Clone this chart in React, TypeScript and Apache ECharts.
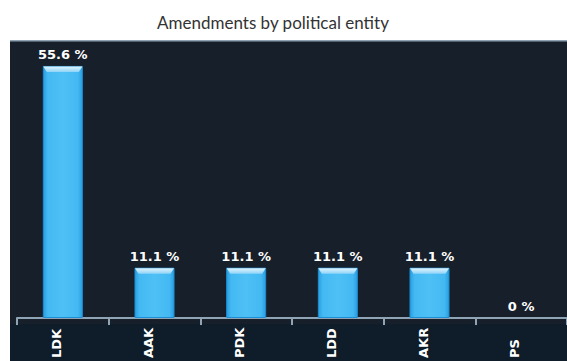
import React, { useEffect, useRef } from "react";
import * as echarts from "echarts";

const categories = ["LDK", "AAK", "PDK", "LDD", "AKR", "PS"];
const values = [55.6, 11.1, 11.1, 11.1, 11.1, 0];
const titleText = "Amendments by political entity";

export default function App() {
  const ref = useRef<HTMLDivElement>(null);
  useEffect(() => {
    if (!ref.current) return;
    const chart = echarts.init(ref.current, undefined, { renderer: "svg" });
    const FONT = "Lato, 'DejaVu Sans', sans-serif";
    const LFONT = "'DejaVu Sans', sans-serif";
    chart.setOption({
      animation: false,
      backgroundColor: "#ffffff",
      graphic: [
        { type: "rect", silent: true, z: -10, shape: { x: 10, y: 40, width: 570, height: 330 }, style: { fill: "#17202a" } },
        { type: "rect", silent: true, z: -9, shape: { x: 10, y: 324, width: 570, height: 40 }, style: { fill: "#0f1c29" } },
        { type: "rect", silent: true, z: -8, shape: { x: 10, y: 40, width: 570, height: 1.5 }, style: { fill: "#8fa3b2" } },
        {
          type: "text",
          x: 273,
          y: 22,
          style: { text: titleText, textAlign: "center", textVerticalAlign: "middle", font: "17px " + FONT, fill: "#333333" },
        },
      ],
      grid: { left: 17, right: -8, top: 46, bottom: 38 },
      xAxis: {
        type: "category",
        data: categories,
        boundaryGap: true,
        axisLine: { show: true, lineStyle: { color: "#8fa5b6", width: 2 } },
        axisTick: { show: true, length: 7, lineStyle: { color: "#8fa5b6", width: 2 } },
        axisLabel: {
          rotate: 90,
          align: "left",
          verticalAlign: "bottom",
          margin: 40,
          color: "#ffffff",
          fontWeight: "bold",
          fontSize: 13,
          fontFamily: LFONT,
          interval: 0,
        },
      },
      yAxis: {
        type: "value",
        min: 0,
        max: 60,
        show: false,
        splitLine: { show: false },
      },
      series: [
        {
          type: "bar",
          data: values.map((v) => (v === 0 ? { value: v, itemStyle: { borderWidth: 0, opacity: 0 } } : v)),
          barWidth: 40,
          itemStyle: {
            color: new echarts.graphic.LinearGradient(0, 0, 1, 0, [
              { offset: 0, color: "#2a9fe2" },
              { offset: 0.12, color: "#44b9f2" },
              { offset: 0.5, color: "#4ec0f5" },
              { offset: 0.88, color: "#44b9f2" },
              { offset: 1, color: "#2a9fe2" },
            ]),
            borderColor: "#1d8fd6",
            borderWidth: 1,
          },
          label: {
            show: true,
            position: "top",
            distance: 5,
            formatter: (p: any) => p.value + " %",
            color: "#ffffff",
            opacity: 1,
            fontWeight: "bold",
            fontSize: 13,
            fontFamily: LFONT,
          },
        },
        {
          type: "custom",
          silent: true,
          z: 5,
          data: values.map((v, i) => [i, v]),
          renderItem: (params: any, api: any) => {
            const v = api.value(1);
            if (!v) return null;
            const top = api.coord([api.value(0), v]);
            const half = 20;
            const x0 = top[0] - half;
            const x1 = top[0] + half;
            const y0 = top[1];
            const h = 6;
            return {
              type: "polygon",
              shape: {
                points: [
                  [x0 + 0.5, y0 + 0.5],
                  [x1 - 0.5, y0 + 0.5],
                  [x1 - 4, y0 + h],
                  [x0 + 4, y0 + h],
                ],
              },
              style: {
                fill: new echarts.graphic.LinearGradient(0, 0, 0, 1, [
                  { offset: 0, color: "#e2f4fd" },
                  { offset: 1, color: "#8fd4f7" },
                ]),
              },
            };
          },
        },
      ],
    });
    return () => chart.dispose();
  }, []);
  return (
    <div
      ref={ref}
      style={{ position: "absolute", left: 0, top: 0, width: 567, height: 361, overflow: "hidden" }}
    />
  );
}
